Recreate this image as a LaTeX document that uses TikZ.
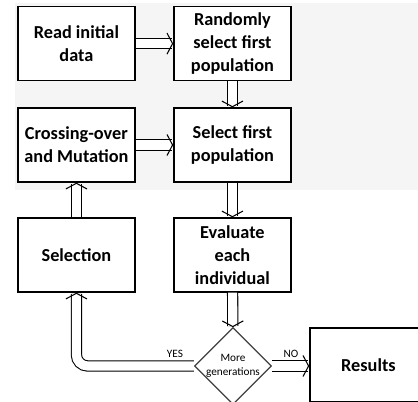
\documentclass[tikz,border=0pt]{standalone}
\usepackage{fontspec}
\setmainfont{Carlito}
\usetikzlibrary{arrows.meta,shapes.geometric}

\begin{document}
\begin{tikzpicture}[
	box/.style={draw, line width=1pt, fill=white, minimum width=2.925cm, minimum height=1.85cm, align=center, inner sep=1pt, font=\bfseries\fontsize{13}{16.4}\selectfont},
	decision/.style={diamond, draw=black!75, line width=0.8pt, fill=white, minimum width=1.925cm, minimum height=1.925cm, inner sep=0pt, align=center, font=\fontsize{8}{9.5}\selectfont},
	flow/.style={double, double distance=6.5pt, line width=0.75pt, -{Straight Barb[length=4pt, width=15pt]}},
	tag/.style={font=\fontsize{8}{9.5}\selectfont}]
		\clip (0, 0) rectangle (10.45, -10.05);
		\fill[black!4] (0.375, -0.075) rectangle (10.45, -4.75);

		\node[box] (read) at (1.91, -1.09) {Read initial\\data};
		\node[box] (random) at (5.81, -1.09) {Randomly\\select first\\population};
		\node[box] (cross) at (1.91, -3.625) {Crossing-over\\and Mutation};
		\node[box] (selfirst) at (5.81, -3.625) {Select first\\population};
		\node[box] (selection) at (1.91, -6.375) {Selection};
		\node[box] (evaluate) at (5.81, -6.375) {Evaluate\\each\\individual};
		\node[decision] (more) at (5.825, -9.15) {More\\generations};
		\node[box] (results) at (9.21, -9.125) {Results};

		\node[tag] (yes) at (4.375, -8.85) {YES};
		\node[tag] (no) at (7.275, -8.85) {NO};

		\draw[flow] (read) -- (random);
		\draw[flow] (random) -- (selfirst);
		\draw[flow] (cross) -- (selfirst);
		\draw[flow] (selfirst) -- (evaluate);
		\draw[flow] (selection) -- (cross);
		\draw[flow] (evaluate) -- (more);
		\draw[flow, rounded corners=8pt] (more.west) -| (selection.south);
		\draw[flow] (more.east) -- (results.west |- more.east);

	\end{tikzpicture}
\end{document}
